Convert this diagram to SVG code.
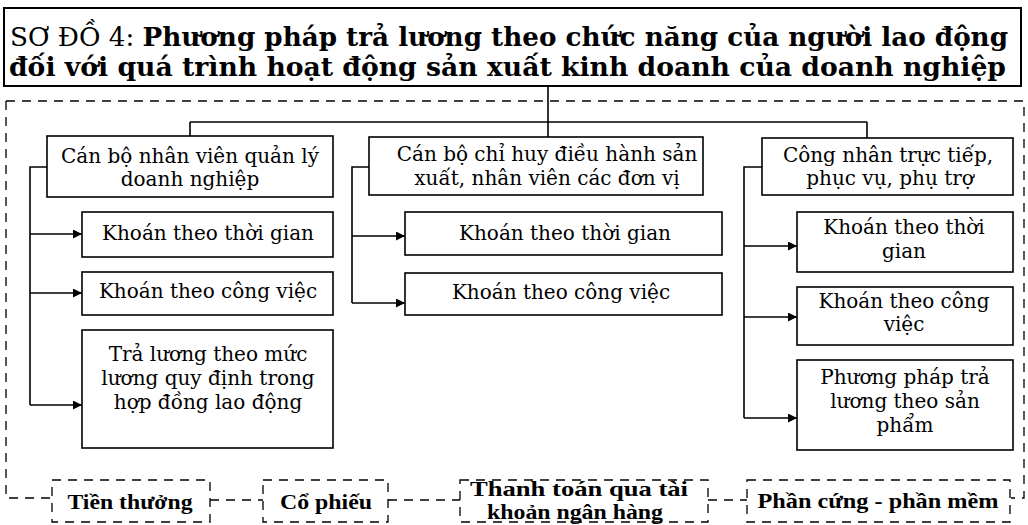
<svg xmlns="http://www.w3.org/2000/svg" width="1028" height="525" viewBox="0 0 1028 525">
<defs>
<marker id="arr" viewBox="0 0 10 10" refX="10" refY="5" markerWidth="10" markerHeight="9" markerUnits="userSpaceOnUse" orient="auto">
<path d="M0,0 L10,5 L0,10 z" fill="#000"/>
</marker>
<style>
.box{fill:#fff;stroke:#000;stroke-width:1.6}
.dbox{fill:#fff;stroke:#000;stroke-width:1.3;stroke-dasharray:9 7}
.ln{fill:none;stroke:#000;stroke-width:1.6}
.dl{fill:none;stroke:#000;stroke-width:1.3;stroke-dasharray:9 7}
.t{font-family:"DejaVu Serif","Liberation Serif",serif;font-size:20px;fill:#000;text-anchor:middle}
.b{font-family:"Liberation Serif","DejaVu Serif",serif;font-size:21px;font-weight:bold;fill:#000;text-anchor:middle}
.title{font-family:"DejaVu Serif","Liberation Serif",serif;font-size:26px;fill:#000}
</style>
</defs>
<rect width="1028" height="525" fill="#fff"/>

<g id="title">
<rect x="4" y="8" width="1017" height="78" fill="#fff" stroke="#000" stroke-width="2"/>
<text class="title" x="10" y="46" textLength="998" lengthAdjust="spacingAndGlyphs">SƠ ĐỒ 4: <tspan font-weight="bold">Phương pháp trả lương theo chức năng của người lao động</tspan></text>
<text class="title" x="9" y="76" font-weight="bold" textLength="997" lengthAdjust="spacingAndGlyphs">đối với quá trình hoạt động sản xuất kinh doanh của doanh nghiệp</text>
</g>

<g id="connectors">
<path class="dl" d="M6,101 H1024 V498 H1011 M6,101 V498 H52 M210,500 H263 M388,500 H460 M708,500 H747"/>
<path class="ln" d="M548,86 V137 M190,122 H867 M190,122 V136 M867,122 V138"/>
<path class="ln" d="M47,167 H30 V405"/>
<path class="ln" marker-end="url(#arr)" d="M30,234 H82"/>
<path class="ln" marker-end="url(#arr)" d="M30,293 H82"/>
<path class="ln" marker-end="url(#arr)" d="M30,405 H82"/>
<path class="ln" d="M369,167 H352 V303"/>
<path class="ln" marker-end="url(#arr)" d="M352,236 H405"/>
<path class="ln" marker-end="url(#arr)" d="M352,303 H405"/>
<path class="ln" d="M762,167 H744 V418"/>
<path class="ln" marker-end="url(#arr)" d="M744,246 H797"/>
<path class="ln" marker-end="url(#arr)" d="M744,317 H797"/>
<path class="ln" marker-end="url(#arr)" d="M744,418 H797"/>
</g>

<g id="a1"><rect class="box" x="47" y="136" width="286" height="61"/>
<text class="t" x="190" y="163">Cán bộ nhân viên quản lý</text>
<text class="t" x="190" y="186">doanh nghiệp</text></g>
<g id="a2"><rect class="box" x="82" y="212" width="251" height="45"/>
<text class="t" x="208" y="240">Khoán theo thời gian</text></g>
<g id="a3"><rect class="box" x="82" y="272" width="251" height="43"/>
<text class="t" x="208" y="298">Khoán theo công việc</text></g>
<g id="a4"><rect class="box" x="82" y="330" width="251" height="118"/>
<text class="t" x="208" y="361">Trả lương theo mức</text>
<text class="t" x="208" y="385">lương quy định trong</text>
<text class="t" x="208" y="409">hợp đồng lao động</text></g>

<g id="b1"><rect class="box" x="369" y="137" width="334" height="58"/>
<text class="t" x="547" y="161">Cán bộ chỉ huy điều hành sản</text>
<text class="t" x="547" y="185">xuất, nhân viên các đơn vị</text></g>
<g id="b2"><rect class="box" x="405" y="212" width="317" height="43"/>
<text class="t" x="565" y="240">Khoán theo thời gian</text></g>
<g id="b3"><rect class="box" x="405" y="273" width="317" height="42"/>
<text class="t" x="561" y="299">Khoán theo công việc</text></g>

<g id="c1"><rect class="box" x="762" y="138" width="251" height="57"/>
<text class="t" x="888" y="162">Công nhân trực tiếp,</text>
<text class="t" x="890" y="185">phục vụ, phụ trợ</text></g>
<g id="c2"><rect class="box" x="797" y="212" width="216" height="60"/>
<text class="t" x="904" y="234">Khoán theo thời</text>
<text class="t" x="904" y="258">gian</text></g>
<g id="c3"><rect class="box" x="797" y="287" width="216" height="58"/>
<text class="t" x="904" y="308">Khoán theo công</text>
<text class="t" x="904" y="331">việc</text></g>
<g id="c4"><rect class="box" x="797" y="360" width="216" height="90"/>
<text class="t" x="905" y="384">Phương pháp trả</text>
<text class="t" x="905" y="408">lương theo sản</text>
<text class="t" x="905" y="432">phẩm</text></g>

<g id="d1"><rect class="dbox" x="52" y="480" width="158" height="42"/>
<text class="b" x="130" y="509" textLength="125" lengthAdjust="spacingAndGlyphs">Tiền thưởng</text></g>
<g id="d2"><rect class="dbox" x="263" y="480" width="125" height="42"/>
<text class="b" x="326" y="509" textLength="92" lengthAdjust="spacingAndGlyphs">Cổ phiếu</text></g>
<g id="d3"><rect class="dbox" x="460" y="480" width="248" height="42"/>
<text class="b" x="579" y="496" textLength="218" lengthAdjust="spacingAndGlyphs">Thanh toán qua tài</text>
<text class="b" x="575" y="519" textLength="176" lengthAdjust="spacingAndGlyphs">khoản ngân hàng</text></g>
<g id="d4"><rect class="dbox" x="747" y="480" width="263" height="42"/>
<text class="b" x="878" y="508" textLength="241" lengthAdjust="spacingAndGlyphs">Phần cứng - phần mềm</text></g>
</svg>
